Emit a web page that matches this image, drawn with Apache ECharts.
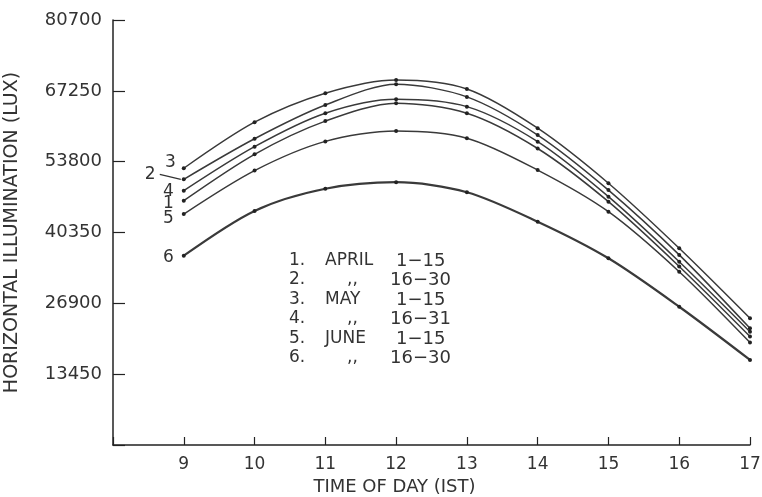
<!DOCTYPE html>
<html>
<head>
<meta charset="utf-8">
<script src="https://cdn.jsdelivr.net/npm/echarts@6/dist/echarts.min.js"></script>
<style>
  html, body { margin: 0; padding: 0; background: #fff; }
  #chart { width: 762px; height: 497px; }
</style>
</head>
<body>
<div id="chart"></div>
<script>
// time of day (IST), hours
var hours = [9, 10, 11, 12, 13, 14, 15, 16, 17];
// horizontal illumination (lux)
var april1 = [46400, 55200, 61500, 64900, 63000, 56300, 46200, 33900, 20600];
var april2 = [50450, 58150, 64550, 68500, 66100, 58850, 48400, 36100, 22150];
var may1 = [52550, 61300, 66800, 69300, 67600, 60150, 49700, 37350, 24050];
var may2 = [48300, 56650, 63000, 65650, 64250, 57600, 47150, 34800, 21500];
var june1 = [43850, 52100, 57650, 59600, 58250, 52200, 44300, 32900, 19450];
var june2 = [35950, 44450, 48650, 49900, 48000, 42400, 35450, 26250, 16150];

var yTicks = [13450, 26900, 40350, 53800, 67250, 80700];

// legend table
var legendNums = ['1.', '2.', '3.', '4.', '5.', '6.'];
var legendMonths = ['APRIL', ',,', 'MAY', ',,', 'JUNE', ',,'];
var legendRanges = ['1\u221215', '16\u221230', '1\u221215', '16\u221231', '1\u221215', '16\u221230'];

var ink = '#333';
var font = 'DejaVu Sans';

function pairs(vals) {
  return vals.map(function (v, i) { return [hours[i], v]; });
}

// curve number written left of the first point
function curve(name, vals, tag, offset, width) {
  var data = pairs(vals);
  data[0] = {
    value: data[0],
    label: {
      show: tag !== '',
      position: 'left',
      formatter: tag,
      offset: offset,
      distance: 6,
      color: ink,
      fontFamily: font,
      fontSize: 17
    }
  };
  return {
    name: name,
    type: 'line',
    data: data,
    smooth: 0.3,
    symbol: 'circle',
    symbolSize: 4,
    itemStyle: { color: '#222' },
    lineStyle: { color: '#3a3a3a', width: width || 1.5 },
    emphasis: { disabled: true },
    z: 3
  };
}

var chart = echarts.init(document.getElementById('chart'));

var legendGraphics = [];
legendNums.forEach(function (n, i) {
  var y = 252 + i * 19.5;
  legendGraphics.push({ type: 'text', left: 289, top: y, style: { text: n, fill: ink, font: '17px ' + font } });
  var m = legendMonths[i];
  legendGraphics.push({ type: 'text', left: m === ',,' ? 347 : 325, top: y, style: { text: m, fill: ink, font: '17px ' + font } });
  var r = legendRanges[i];
  legendGraphics.push({ type: 'text', left: r.length === 4 ? 396 : 390, top: y, style: { text: r, fill: ink, font: '18px ' + font } });
});

chart.setOption({
  animation: false,
  backgroundColor: '#fff',
  grid: { left: 113, right: 12, top: 20, bottom: 52, outerBoundsMode: 'none', containLabel: false },
  xAxis: {
    type: 'value',
    min: 8,
    max: 17,
    interval: 1,
    name: 'TIME OF DAY (IST)',
    nameLocation: 'middle',
    nameGap: 32,
    nameTextStyle: { color: ink, fontFamily: font, fontSize: 18, padding: [0, 74, 0, 0] },
    axisLine: { lineStyle: { color: '#222', width: 1.5 } },
    axisTick: { inside: true, length: 8, lineStyle: { color: '#222', width: 1.2 } },
    axisLabel: {
      color: ink, fontFamily: font, fontSize: 17, margin: 11,
      formatter: function (v) { return v === 8 ? '' : String(v); }
    },
    splitLine: { show: false }
  },
  yAxis: {
    type: 'value',
    min: 0,
    max: 80700,
    interval: 13450,
    name: 'HORIZONTAL ILLUMINATION (LUX)',
    nameLocation: 'middle',
    nameGap: 91,
    nameTextStyle: { color: ink, fontFamily: font, fontSize: 19 },
    axisLine: { show: true, lineStyle: { color: '#222', width: 1.5 } },
    axisTick: { show: true, inside: true, length: 12, lineStyle: { color: '#222', width: 1.2 } },
    axisLabel: {
      color: ink, fontFamily: font, fontSize: 18, margin: 11,
      formatter: function (v) { return yTicks.indexOf(v) >= 0 ? String(v) : ''; }
    },
    splitLine: { show: false }
  },
  graphic: legendGraphics,
  series: [
    curve('April 1-15', april1, '1', [-2, 3]),
    curve('April 16-30', april2, '', [0, 0]),
    curve('May 1-15', may1, '3', [0, -6]),
    curve('May 16-31', may2, '4', [-2, 1]),
    curve('June 1-15', june1, '5', [-2, 5]),
    curve('June 16-30', june2, '6', [-2, 2], 2.2)
  ]
});

// curve 2: number with a leader line to its first point
var p2 = chart.convertToPixel({ gridIndex: 0 }, [hours[0], april2[0]]);
legendGraphics.push({
  type: 'line',
  shape: { x1: p2[0] - 24, y1: p2[1] - 5, x2: p2[0] - 3, y2: p2[1] },
  style: { stroke: '#333', lineWidth: 1.2 }
});
legendGraphics.push({
  type: 'text', left: p2[0] - 39, top: p2[1] - 13,
  style: { text: '2', fill: ink, font: '17px ' + font }
});
chart.setOption({ graphic: legendGraphics });
</script>
</body>
</html>
